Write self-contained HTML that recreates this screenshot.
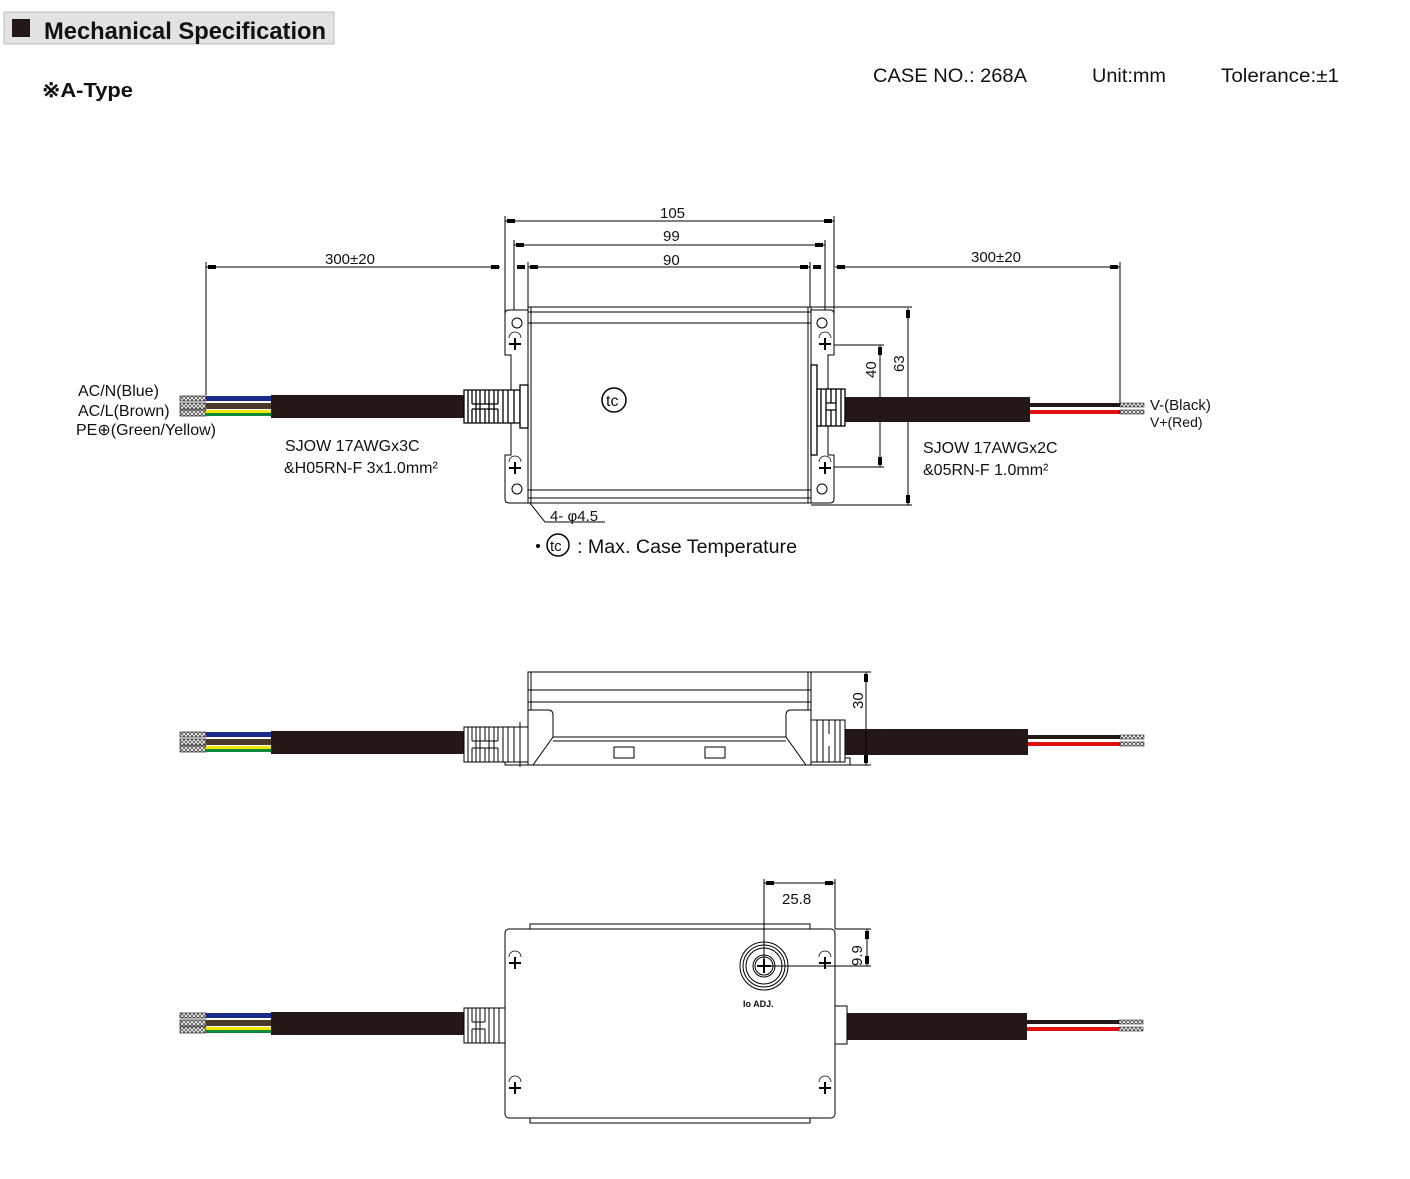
<!DOCTYPE html>
<html><head><meta charset="utf-8"><style>
html,body{margin:0;padding:0;background:#fff;}
svg{display:block;}
text{font-family:"Liberation Sans",sans-serif;fill:#111;}
</style></head><body>
<svg width="1410" height="1179" viewBox="0 0 1410 1179" xmlns="http://www.w3.org/2000/svg">
<defs>
<pattern id="hat" width="4" height="4" patternUnits="userSpaceOnUse"><rect width="4" height="4" fill="#fff"/><path d="M0 4L4 0M0 0L4 4" stroke="#555" stroke-width="0.8"/></pattern>
<g id="screw"><path d="M-6 -6 A6 6 0 0 1 6 -6" fill="none" stroke="#000" stroke-width="0.8"/><path d="M-6 0H6M0 -6V6" stroke="#000" stroke-width="2"/></g>
</defs>
<rect x="4" y="12" width="330" height="32" fill="#e2e2e2" stroke="#bbb"/>
<rect x="12" y="19" width="18" height="18" fill="#231815"/>
<text x="44" y="39" font-size="24" font-weight="bold" textLength="282" lengthAdjust="spacingAndGlyphs">Mechanical Specification</text>
<text x="42" y="97" font-size="20" font-weight="bold" textLength="91" lengthAdjust="spacingAndGlyphs">※A-Type</text>
<text x="873" y="82" font-size="19" textLength="154" lengthAdjust="spacingAndGlyphs">CASE NO.:  268A</text>
<text x="1092" y="82" font-size="19" textLength="74" lengthAdjust="spacingAndGlyphs">Unit:mm</text>
<text x="1221" y="82" font-size="19" textLength="118" lengthAdjust="spacingAndGlyphs">Tolerance:±1</text>

<g stroke="#000" stroke-width="1" fill="none">
<path d="M505 216V330M834 216V330M514 240V330M825 240V330M528 262V307M810 262V307M206 262V395M1120 262V405"/>
<path d="M505 221H834M514 245H825M528 267H810M206 267H500M835 267H1120"/>
<path d="M811 307H912M825 345H884M825 467H884M811 505H912M880 345V467M908 308V505"/>
<path d="M626 400H810M614 412V500"/>
<path d="M517 487L545 522H605"/>
</g>
<g fill="#000">
<rect x="507" y="219" width="8" height="4"/><rect x="824" y="219" width="8" height="4"/>
<rect x="516" y="243" width="8" height="4"/><rect x="815" y="243" width="8" height="4"/>
<rect x="517" y="265" width="8" height="4"/><rect x="530" y="265" width="8" height="4"/><rect x="800" y="265" width="8" height="4"/><rect x="813" y="265" width="8" height="4"/>
<rect x="491" y="265" width="8" height="4"/><rect x="208" y="265" width="8" height="4"/><rect x="837" y="265" width="8" height="4"/><rect x="1110" y="265" width="8" height="4"/>
<rect x="878" y="347" width="4" height="8"/><rect x="878" y="457" width="4" height="8"/>
<rect x="906" y="310" width="4" height="8"/><rect x="906" y="495" width="4" height="8"/>
<rect x="804" y="398" width="6" height="4"/><rect x="612" y="492" width="4" height="8"/>
<path d="M517 487l6 4-3 3z"/>
</g>
<text x="660" y="218" font-size="15">105</text>
<text x="663" y="241" font-size="15">99</text>
<text x="663" y="265" font-size="15">90</text>
<text x="325" y="264" font-size="15">300±20</text>
<text x="971" y="262" font-size="15">300±20</text>
<text x="723" y="397" font-size="14">61.3</text>
<text font-size="15" transform="translate(610,455) rotate(-90)">31.6</text>
<text font-size="15" transform="translate(876,378) rotate(-90)">40</text>
<text font-size="15" transform="translate(904,372) rotate(-90)">63</text>
<text x="550" y="521" font-size="15">4- φ4.5</text>

<g stroke="#000" fill="#fff" stroke-width="1">
<path d="M505 314q0-4 4-4h19v193h-19q-4 0-4-4v-44h6v-100h-6z"/>
<path d="M834 314q0-4-4-4h-19v193h19q4 0 4-4v-44h-6v-100h6z"/>
<rect x="528" y="307" width="283" height="196"/>
<path d="M531 307V503M808 307V503M528 312H811M528 323H811M528 490H811M528 498H811" fill="none"/>
<circle cx="517" cy="323" r="5"/><circle cx="517" cy="489" r="5"/>
<circle cx="822" cy="323" r="5"/><circle cx="822" cy="489" r="5"/>
</g>
<use href="#screw" x="515" y="344"/><use href="#screw" x="515" y="468"/>
<use href="#screw" x="825" y="344"/><use href="#screw" x="825" y="468"/>
<rect x="271" y="395" width="194" height="23" fill="#231815"/>
<rect x="180" y="396" width="26" height="5" fill="url(#hat)" stroke="#000" stroke-width="0.6"/>
<rect x="180" y="403" width="26" height="6" fill="url(#hat)" stroke="#000" stroke-width="0.6"/>
<rect x="180" y="410" width="26" height="6" fill="url(#hat)" stroke="#000" stroke-width="0.6"/>
<rect x="206" y="396" width="65" height="5" fill="#1a2b8c"/>
<rect x="206" y="403" width="65" height="6" fill="#4a3a2a"/>
<rect x="206" y="410" width="65" height="3" fill="#f2e800"/><rect x="206" y="413" width="65" height="3" fill="#0a8a3a"/>
<g stroke="#000" fill="#fff" stroke-width="1.3">
<path d="M464 390h56v33h-56z"/>
<path d="M468 390v33M472 390v14M472 409v14M476 390v33M480 390v33M485 390v14M485 409v14M489 390v33M494 390v33M498 390v14M498 409v14M503 390v33M508 390v33M514 390v33M472 404h13M472 409h13M485 404h13M485 409h13" fill="none"/>
<rect x="520" y="385" width="8" height="43"/>
</g>
<rect x="845" y="397" width="185" height="25" fill="#231815"/>
<rect x="1030" y="403" width="90" height="4" fill="#231815"/>
<rect x="1030" y="410" width="90" height="4" fill="#e01010"/>
<rect x="1120" y="403" width="24" height="4" fill="url(#hat)" stroke="#000" stroke-width="0.5"/>
<rect x="1120" y="410" width="24" height="4" fill="url(#hat)" stroke="#000" stroke-width="0.5"/>
<g stroke="#000" fill="#fff" stroke-width="1.3">
<rect x="811" y="365" width="6" height="90"/>
<rect x="817" y="389" width="28" height="37"/>
<path d="M821 389v37M826 389v37M831 389v14M831 410v16M836 389v37M841 389v37M826 403h10M826 410h10" fill="none"/>
</g>
<g stroke="#000" stroke-width="1.5" fill="#fff"><circle cx="614" cy="400" r="12"/><circle cx="558" cy="545" r="11"/></g>
<text x="606" y="406" font-size="16">tc</text>
<text x="550" y="551" font-size="15">tc</text>
<circle cx="538" cy="546" r="2" fill="#000"/>
<text x="577" y="553" font-size="19" textLength="220" lengthAdjust="spacingAndGlyphs">: Max. Case Temperature</text>

<text x="78" y="396" font-size="16">AC/N(Blue)</text>
<text x="78" y="416" font-size="16">AC/L(Brown)</text>
<text x="76" y="435" font-size="16">PE⊕(Green/Yellow)</text>
<text x="285" y="451" font-size="16">SJOW 17AWGx3C</text>
<text x="284" y="473" font-size="16">&amp;H05RN-F 3x1.0mm²</text>
<text x="923" y="453" font-size="16">SJOW 17AWGx2C</text>
<text x="923" y="475" font-size="16">&amp;05RN-F 1.0mm²</text>
<text x="1150" y="410" font-size="15">V-(Black)</text>
<text x="1150" y="427" font-size="14">V+(Red)</text>

<rect x="271" y="731" width="194" height="23" fill="#231815"/>
<rect x="180" y="732" width="26" height="5" fill="url(#hat)" stroke="#000" stroke-width="0.6"/>
<rect x="180" y="739" width="26" height="6" fill="url(#hat)" stroke="#000" stroke-width="0.6"/>
<rect x="180" y="746" width="26" height="6" fill="url(#hat)" stroke="#000" stroke-width="0.6"/>
<rect x="206" y="732" width="65" height="5" fill="#1a2b8c"/>
<rect x="206" y="739" width="65" height="6" fill="#4a3a2a"/>
<rect x="206" y="746" width="65" height="3" fill="#f2e800"/><rect x="206" y="749" width="65" height="3" fill="#0a8a3a"/>
<rect x="845" y="729" width="183" height="26" fill="#231815"/>
<rect x="1028" y="735" width="92" height="4" fill="#231815"/>
<rect x="1028" y="742" width="92" height="4" fill="#e01010"/>
<rect x="1120" y="735" width="24" height="4" fill="url(#hat)" stroke="#000" stroke-width="0.5"/>
<rect x="1120" y="742" width="24" height="4" fill="url(#hat)" stroke="#000" stroke-width="0.5"/>
<g stroke="#000" stroke-width="1" fill="#fff">
<rect x="505" y="758" width="345" height="7"/>
<rect x="528" y="672" width="283" height="93"/>
<path d="M531 672V710M808 672V710M528 690H811M528 702H811" fill="none"/>
<path d="M528 710h20q5 0 5 5v22l-20 28M811 710h-20q-5 0-5 5v22l20 28M553 737H786M553 741H786" fill="none"/>
<rect x="614" y="747" width="20" height="11"/><rect x="705" y="747" width="20" height="11"/>
<path d="M464 727h64v35h-64z"/>
<path d="M468 727v35M472 727v14M472 748v14M476 727v35M480 727v35M485 727v14M485 748v14M489 727v35M494 727v35M498 727v14M498 748v14M503 727v35M508 727v35M514 727v35M520 722v45M472 741h13M472 748h13M485 741h13M485 748h13" fill="none"/>
<rect x="811" y="720" width="34" height="42"/>
<path d="M817 720v42M823 720v42M829 720v14M829 746v16M835 720v42M840 720v42" fill="none"/>
<path d="M811 672H871M850 765H871M866 672V765" fill="none"/>
</g>
<rect x="864" y="674" width="4" height="8" fill="#000"/><rect x="864" y="755" width="4" height="8" fill="#000"/>
<text font-size="15" transform="translate(863,709) rotate(-90)">30</text>

<rect x="271" y="1012" width="194" height="23" fill="#231815"/>
<rect x="180" y="1013" width="26" height="5" fill="url(#hat)" stroke="#000" stroke-width="0.6"/>
<rect x="180" y="1020" width="26" height="6" fill="url(#hat)" stroke="#000" stroke-width="0.6"/>
<rect x="180" y="1027" width="26" height="6" fill="url(#hat)" stroke="#000" stroke-width="0.6"/>
<rect x="206" y="1013" width="65" height="5" fill="#1a2b8c"/>
<rect x="206" y="1020" width="65" height="6" fill="#4a3a2a"/>
<rect x="206" y="1027" width="65" height="3" fill="#f2e800"/><rect x="206" y="1030" width="65" height="3" fill="#0a8a3a"/>
<rect x="847" y="1013" width="180" height="27" fill="#231815"/>
<rect x="1027" y="1020" width="92" height="4" fill="#231815"/>
<rect x="1027" y="1027" width="92" height="4" fill="#e01010"/>
<rect x="1119" y="1020" width="24" height="4" fill="url(#hat)" stroke="#000" stroke-width="0.5"/>
<rect x="1119" y="1027" width="24" height="4" fill="url(#hat)" stroke="#000" stroke-width="0.5"/>
<g stroke="#000" stroke-width="1" fill="#fff">
<rect x="530" y="924" width="280" height="199"/>
<rect x="505" y="929" width="330" height="189" rx="4"/>
<path d="M464 1008h41v35h-41z"/>
<path d="M468 1008v35M472 1008v14M472 1029v14M476 1008v35M480 1008v35M485 1008v14M485 1029v14M489 1008v35M494 1008v35M499 1008v35M472 1022h13M472 1029h13" fill="none"/>
<rect x="835" y="1006" width="12" height="38"/>
<circle cx="764" cy="966" r="24"/><circle cx="764" cy="966" r="21" fill="none"/><circle cx="764" cy="966" r="18" fill="none"/>
<circle cx="764" cy="966" r="11"/><circle cx="764" cy="966" r="9" fill="none"/>
<path d="M764 879V966M835 879V929M764 883H835M835 929H871M764 966H871M867 929V966" fill="none"/>
</g>
<path d="M757 966H771M764 959V973" stroke="#000" stroke-width="2"/>
<use href="#screw" x="515" y="963"/><use href="#screw" x="825" y="963"/>
<use href="#screw" x="515" y="1088"/><use href="#screw" x="825" y="1088"/>
<rect x="766" y="881" width="8" height="4" fill="#000"/><rect x="825" y="881" width="8" height="4" fill="#000"/>
<rect x="865" y="931" width="4" height="8" fill="#000"/><rect x="865" y="956" width="4" height="8" fill="#000"/>
<text x="782" y="904" font-size="15">25.8</text>
<text font-size="15" transform="translate(862,966) rotate(-90)">9.9</text>
<text x="743" y="1007" font-size="9" font-weight="bold">Io  ADJ.</text>
</svg>
</body></html>
